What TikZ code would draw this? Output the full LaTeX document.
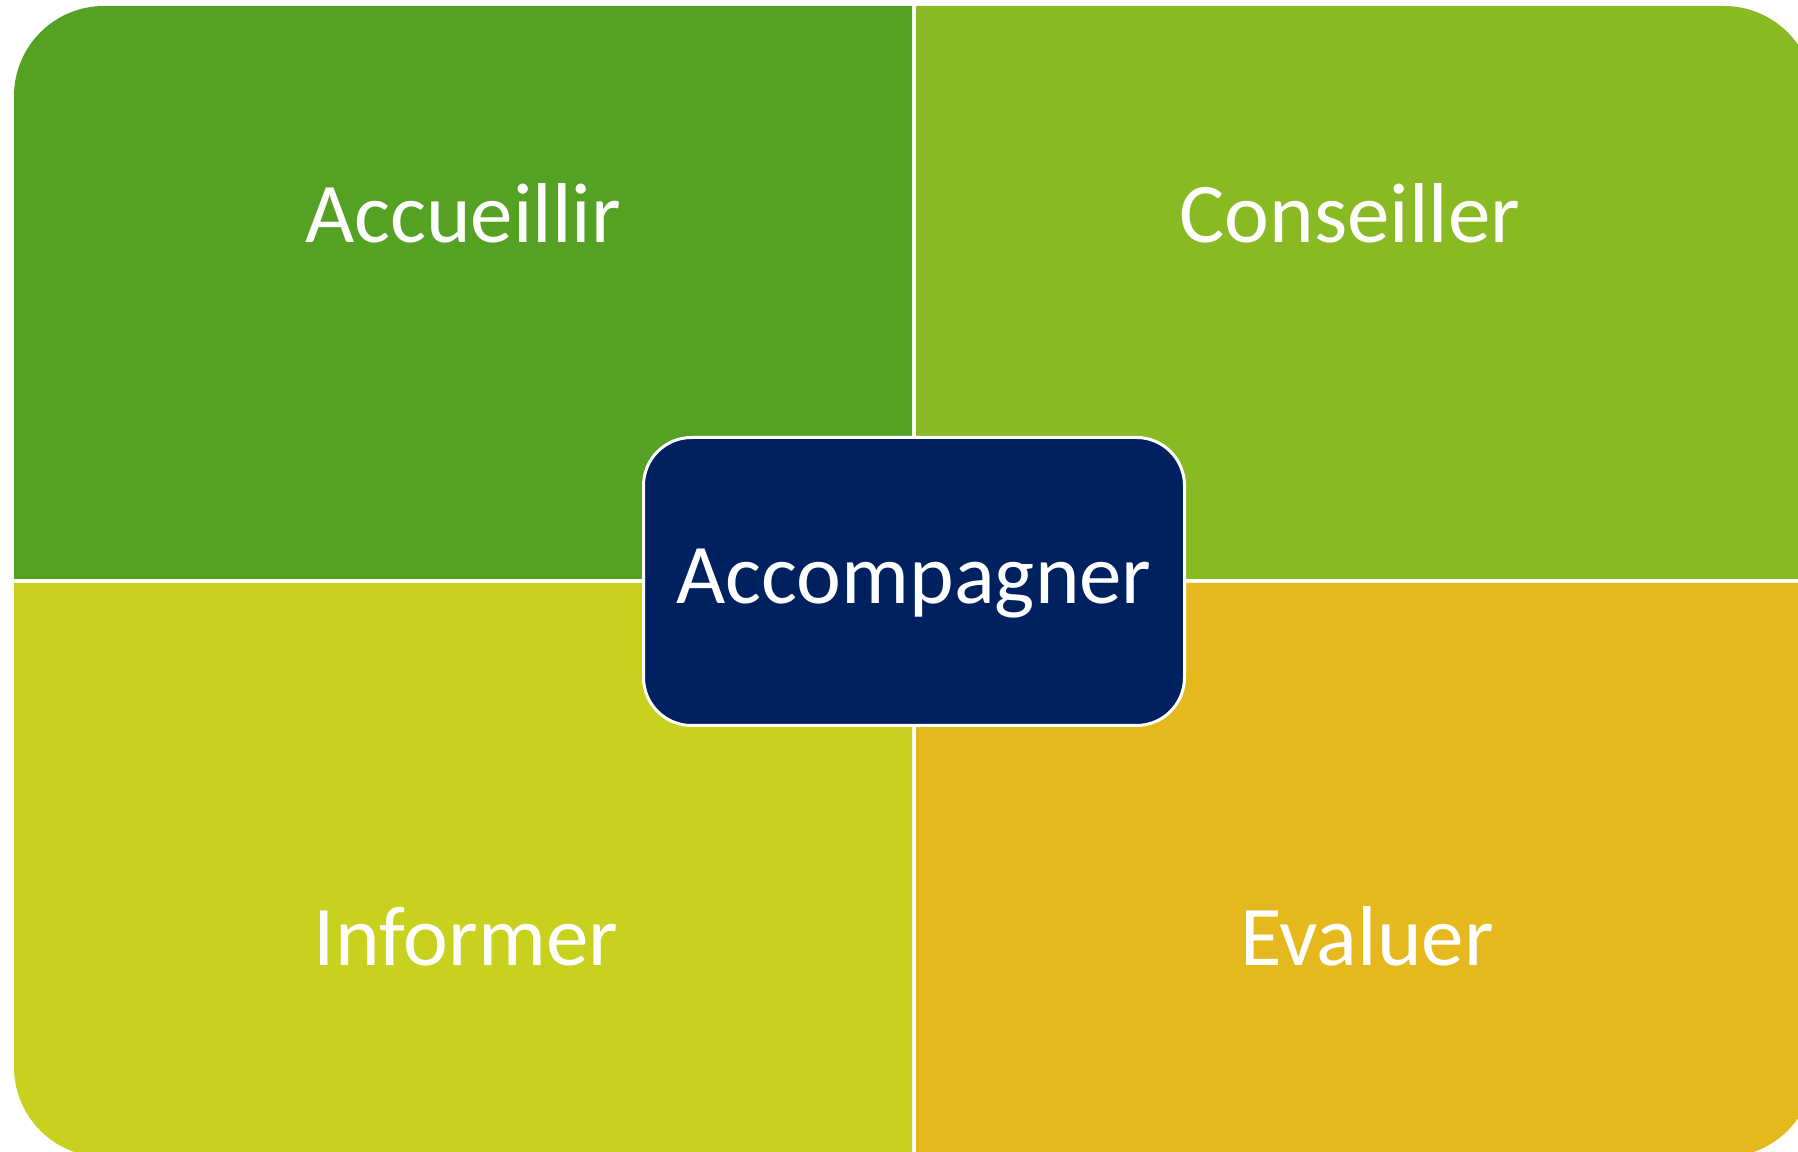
\documentclass[tikz,border=0pt]{standalone}
\usepackage{fontspec}
\setmainfont{Carlito}
\usepackage{xcolor}
\usepackage{tikz}
\usetikzlibrary{positioning}

\definecolor{vertfonce}{HTML}{55A123}
\definecolor{vertclair}{HTML}{89B923}
\definecolor{jaunevert}{HTML}{C8D11D}
\definecolor{jauneor}{HTML}{E5B91E}
\definecolor{bleunuit}{HTML}{002160}

\tikzset{
  mot/.style={text=white,font=\fontsize{85}{100}\selectfont,anchor=base,inner sep=0pt},
  centre/.style={draw=white,fill=bleunuit,line width=3pt,rounded corners=48pt,
    minimum width=541pt,minimum height=288pt,inner sep=0pt}
}

\begin{document}
\begin{tikzpicture}[x=1pt,y=1pt]
  \useasboundingbox (0,0) rectangle (1798,1151);
  % quatre quarts, un seul coin arrondi chacun
  \fill [vertfonce] (912,572) -- (14,572) -- (14,1055) arc[start angle=180,end angle=90,radius=90] -- (912,1145) -- cycle;
  \fill [vertclair] (916,572) -- (1814,572) -- (1814,1055) arc[start angle=0,end angle=90,radius=90] -- (916,1145) -- cycle;
  \fill [jaunevert] (912,568) -- (14,568) -- (14,84) arc[start angle=180,end angle=270,radius=90] -- (912,-6) -- cycle;
  \fill [jauneor] (916,568) -- (1814,568) -- (1814,84) arc[start angle=0,end angle=-90,radius=90] -- (916,-6) -- cycle;
  \node (accueillir) [mot] at (463,908) {Accueillir};
  \node (conseiller) [mot] at (1350,908) {Conseiller};
  \node (informer) [mot] at (466,185.5) {Informer};
  \node (evaluer) [mot] at (1367,185.5) {Evaluer};
  \node (accompagner) [centre] at (914,569.5) {};
  \node (texte) [mot] at (914,547) {Accompagner};
\end{tikzpicture}
\end{document}
